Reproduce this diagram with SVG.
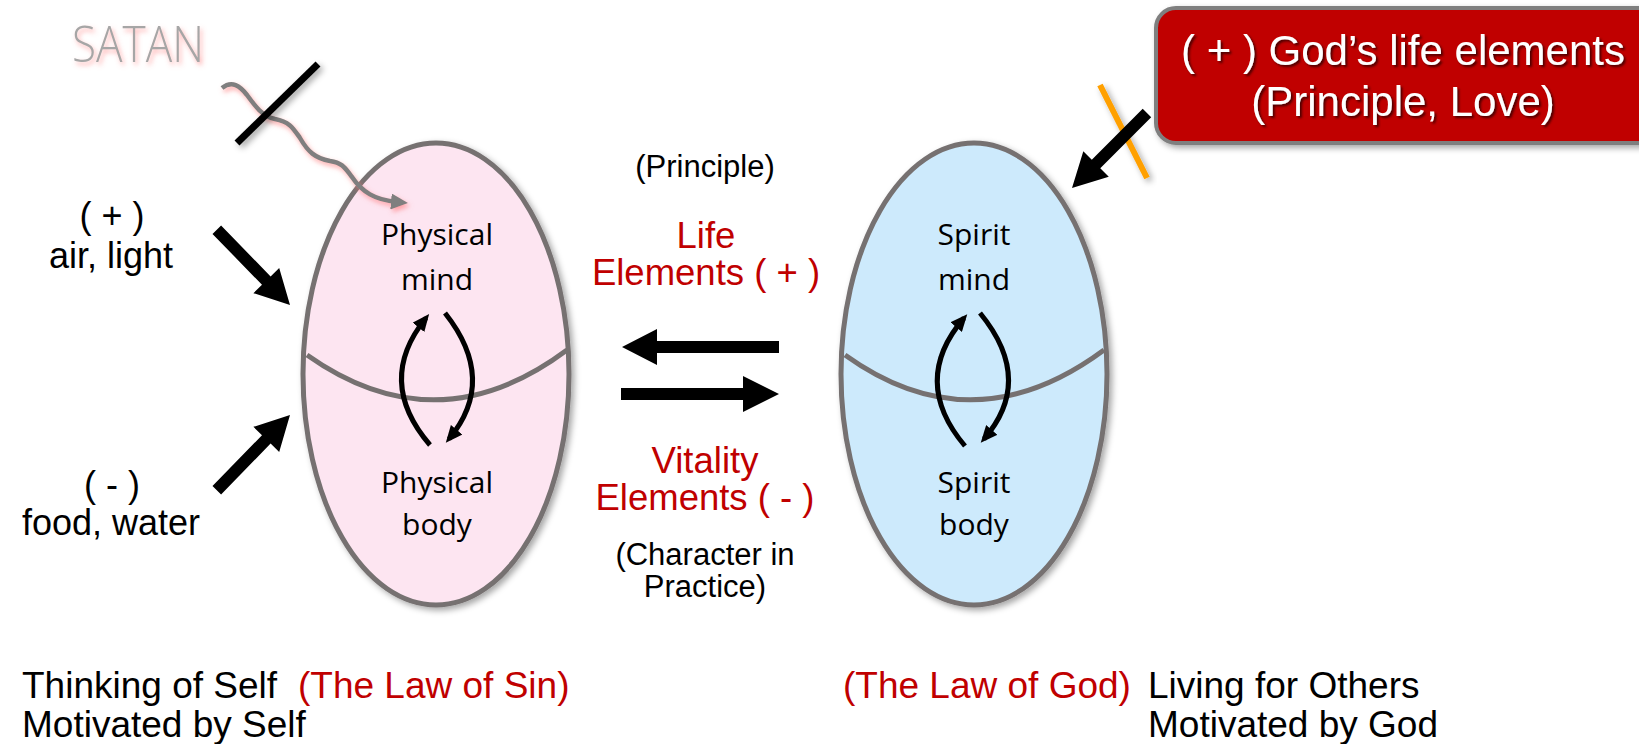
<svg xmlns="http://www.w3.org/2000/svg" width="1639" height="744" viewBox="0 0 1639 744">
<style>
  .sans { font-family: "Liberation Sans", Arial, sans-serif; }
  .cal { font-family: "Open Sans", "Noto Sans", sans-serif; font-size: 30px; fill: #000; }
  .red { fill: #c00000; }
  .blk { fill: #000; }
  .egg { stroke: #767171; stroke-width: 5; }
  .div { fill: none; stroke: #767171; stroke-width: 5; }
  .cyc { fill: none; stroke: #000; stroke-width: 5; }
</style>
<defs>
  <filter id="shadow" x="-20%" y="-20%" width="140%" height="140%">
    <feDropShadow dx="3" dy="3" stdDeviation="3" flood-color="#000" flood-opacity="0.35"/>
  </filter>
  <filter id="glow" x="-30%" y="-30%" width="160%" height="160%">
    <feDropShadow dx="2" dy="3" stdDeviation="2.5" flood-color="#ff7070" flood-opacity="0.6"/>
  </filter>
  <filter id="tshadow" x="-10%" y="-20%" width="120%" height="140%">
    <feDropShadow dx="2" dy="2" stdDeviation="0.8" flood-color="#300000" flood-opacity="0.8"/>
  </filter>
  <marker id="ahead" markerUnits="userSpaceOnUse" markerWidth="17" markerHeight="15" refX="12" refY="7.5" orient="auto">
    <path d="M0,0 L17,7.5 L0,15 z" fill="#000"/>
  </marker>
  <marker id="ghead" markerUnits="userSpaceOnUse" markerWidth="17" markerHeight="16" refX="6" refY="8" orient="auto">
    <path d="M0,0 L17,8 L0,16 z" fill="#7f7f7f"/>
  </marker>
</defs>

<g id="satan">
  <text x="72" y="62" textLength="132" lengthAdjust="spacingAndGlyphs" font-family="Open Sans, sans-serif" font-weight="300" font-size="49" fill="#a6a6a6" filter="url(#glow)">SATAN</text>
</g>

<g id="physical">
  <ellipse class="egg" cx="436" cy="374" rx="133" ry="231" fill="#fde5f1" filter="url(#shadow)"/>
  <path class="div" d="M307,355 Q437,447 567,350"/>
  <text class="cal" text-anchor="middle" x="437" y="245">Physical</text>
  <text class="cal" text-anchor="middle" x="437" y="290">mind</text>
  <text class="cal" text-anchor="middle" x="437" y="493">Physical</text>
  <text class="cal" text-anchor="middle" x="437" y="535">body</text>
  <path class="cyc" d="M430,445 Q375,381 426,318" marker-end="url(#ahead)"/>
  <path class="cyc" d="M445,313 Q498,380 449,439" marker-end="url(#ahead)"/>
</g>

<g id="spirit">
  <ellipse class="egg" cx="974" cy="374" rx="133" ry="231" fill="#cdeafc" filter="url(#shadow)"/>
  <path class="div" d="M845,355 Q973,447 1104,350"/>
  <text class="cal" text-anchor="middle" x="974" y="245">Spirit</text>
  <text class="cal" text-anchor="middle" x="974" y="290">mind</text>
  <text class="cal" text-anchor="middle" x="974" y="493">Spirit</text>
  <text class="cal" text-anchor="middle" x="974" y="535">body</text>
  <path class="cyc" d="M965,446 Q910,381 964,318" marker-end="url(#ahead)"/>
  <path class="cyc" d="M980,313 Q1035,380 984,439" marker-end="url(#ahead)"/>
</g>

<g id="gods-life">
  <rect x="1156" y="8" width="520" height="135" rx="20" fill="#c00000" stroke="#7f7f7f" stroke-width="4" filter="url(#shadow)"/>
  <g filter="url(#tshadow)" class="sans" font-size="42" fill="#fff" text-anchor="middle">
    <text x="1403" y="65">( + ) God’s life elements</text>
    <text x="1403" y="116">(Principle, Love)</text>
  </g>
</g>

<g id="left-labels" class="sans blk" font-size="36" text-anchor="middle">
  <text x="112" y="228">( + )</text>
  <text x="111" y="268">air, light</text>
  <text x="112" y="497">( - )</text>
  <text x="111" y="535">food, water</text>
</g>

<g id="center-labels" class="sans" text-anchor="middle">
  <text class="blk" x="705" y="177" font-size="31">(Principle)</text>
  <text class="red" x="706" y="248" font-size="36.5">Life</text>
  <text class="red" x="706" y="285" font-size="36.5">Elements ( + )</text>
  <text class="red" x="705" y="473" font-size="36.5">Vitality</text>
  <text class="red" x="705" y="510" font-size="36.5">Elements ( - )</text>
  <text class="blk" x="705" y="565" font-size="31">(Character in</text>
  <text class="blk" x="705" y="597" font-size="31">Practice)</text>
</g>

<g id="bottom-labels" class="sans" font-size="37">
  <text class="blk" x="22" y="698">Thinking of Self</text>
  <text class="red" x="298" y="698">(The Law of Sin)</text>
  <text class="blk" x="22" y="737">Motivated by Self</text>
  <text class="red" x="843" y="698">(The Law of God)</text>
  <text class="blk" x="1148" y="698">Living for Others</text>
  <text class="blk" x="1148" y="737">Motivated by God</text>
</g>

<g id="connectors">
  <path d="M222,88 C232,80 240,86 247,95 C255,106 262,116 275,119 C290,122 293,128 300,138 C308,152 315,158 330,161 C343,163 345,168 352,177 C362,192 375,200 397,202" fill="none" stroke="#7f7f7f" stroke-width="4.5" marker-end="url(#ghead)" filter="url(#glow)"/>
  <line x1="237" y1="143" x2="318" y2="64" stroke="#000" stroke-width="7" filter="url(#shadow)"/>
  <line x1="1100" y1="85" x2="1147" y2="178" stroke="#ffa000" stroke-width="6" filter="url(#shadow)"/>
  <polygon class="blk" points="-105,-6 -34,-6 -34,-18 0,0 -34,18 -34,6 -105,6" transform="translate(290,305) rotate(45.8)"/>
  <polygon class="blk" points="-105,-6 -34,-6 -34,-18 0,0 -34,18 -34,6 -105,6" transform="translate(290,415) rotate(-45.8)"/>
  <polygon class="blk" points="-106,-6 -34,-6 -34,-18 0,0 -34,18 -34,6 -106,6" transform="translate(1072,188) rotate(135)"/>
  <polygon class="blk" points="-157,-6 -35,-6 -35,-18 0,0 -35,18 -35,6 -157,6" transform="translate(622,347) rotate(180)"/>
  <polygon class="blk" points="-158,-6 -36,-6 -36,-18 0,0 -36,18 -36,6 -158,6" transform="translate(779,394)"/>
</g>
</svg>
